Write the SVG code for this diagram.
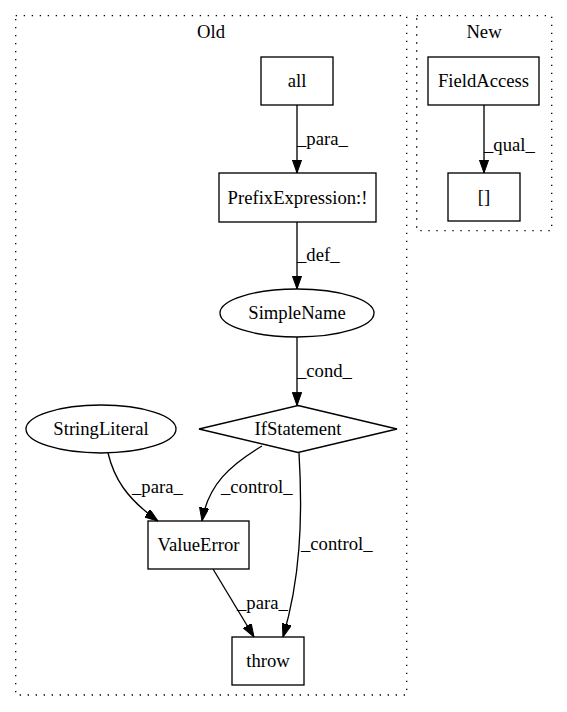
<svg xmlns="http://www.w3.org/2000/svg" width="567" height="712" viewBox="0 0 567 712">
<style>
text{font-family:"Liberation Serif","Times New Roman",serif;font-size:18.67px;fill:#000}
.c{text-anchor:middle}
.node{fill:none;stroke:#000;stroke-width:1.33}
.cluster{fill:none;stroke:#000;stroke-width:1.33;stroke-dasharray:1.33,6.67}
.edge{fill:none;stroke:#000;stroke-width:1.33;marker-end:url(#arrow)}
</style>
<defs>
<marker id="arrow" viewBox="0 0 13.3 9.4" refX="13.3" refY="4.7" markerWidth="13.3" markerHeight="9.4" markerUnits="userSpaceOnUse" orient="auto">
<path d="M0,0 L13.3,4.7 L0,9.4 z" fill="#000" stroke="#000" stroke-width="1"/>
</marker>
</defs>
<rect width="567" height="712" fill="#fff"/>
<g id="cluster_old">
<rect class="cluster" x="15.7" y="15.7" width="391" height="679.3"/>
<text class="c" x="211" y="38">Old</text>
</g>
<g id="cluster_new">
<rect class="cluster" x="416.7" y="15.7" width="135" height="215"/>
<text class="c" x="484" y="38">New</text>
</g>
<g id="connectors">
<path class="edge" d="M297,105 L297,173"/>
<text x="297" y="145">_para_</text>
<path class="edge" d="M297,222 L297,289"/>
<text x="297" y="261">_def_</text>
<path class="edge" d="M297,337 L297,405.5"/>
<text x="297" y="377">_cond_</text>
<path class="edge" d="M484,105 L484,173"/>
<text x="484" y="151">_qual_</text>
<path class="edge" d="M108,453 C114,478 126,498 158,521"/>
<text x="132" y="493">_para_</text>
<path class="edge" d="M262,446 C230,465 208,485 202,521"/>
<text x="221" y="493">_control_</text>
<path class="edge" d="M299,453 C303,520 300,580 283,637"/>
<text x="301" y="550">_control_</text>
<path class="edge" d="M213,569 L254,637"/>
<text x="237" y="609">_para_</text>
</g>
<g id="node_all">
<rect class="node" x="261" y="57" width="72" height="48"/>
<text class="c" x="297" y="87">all</text>
</g>
<g id="node_prefix">
<rect class="node" x="219" y="173" width="157" height="49"/>
<text class="c" x="297.5" y="204">PrefixExpression:!</text>
</g>
<g id="node_simplename">
<ellipse class="node" cx="297" cy="313" rx="77" ry="24"/>
<text class="c" x="297" y="319">SimpleName</text>
</g>
<g id="node_if">
<polygon class="node" points="298,405.5 397,429 298,452.5 199,429"/>
<text class="c" x="298" y="435">IfStatement</text>
</g>
<g id="node_stringliteral">
<ellipse class="node" cx="101" cy="429" rx="75" ry="24"/>
<text class="c" x="101" y="435">StringLiteral</text>
</g>
<g id="node_valueerror">
<rect class="node" x="148" y="521" width="101" height="48"/>
<text class="c" x="198.5" y="551">ValueError</text>
</g>
<g id="node_throw">
<rect class="node" x="232" y="637" width="72" height="48"/>
<text class="c" x="268" y="667">throw</text>
</g>
<g id="node_fieldaccess">
<rect class="node" x="428" y="57" width="111" height="48"/>
<text class="c" x="483.5" y="87">FieldAccess</text>
</g>
<g id="node_index">
<rect class="node" x="448" y="173" width="72" height="48"/>
<text class="c" x="484" y="203">[]</text>
</g>
</svg>
